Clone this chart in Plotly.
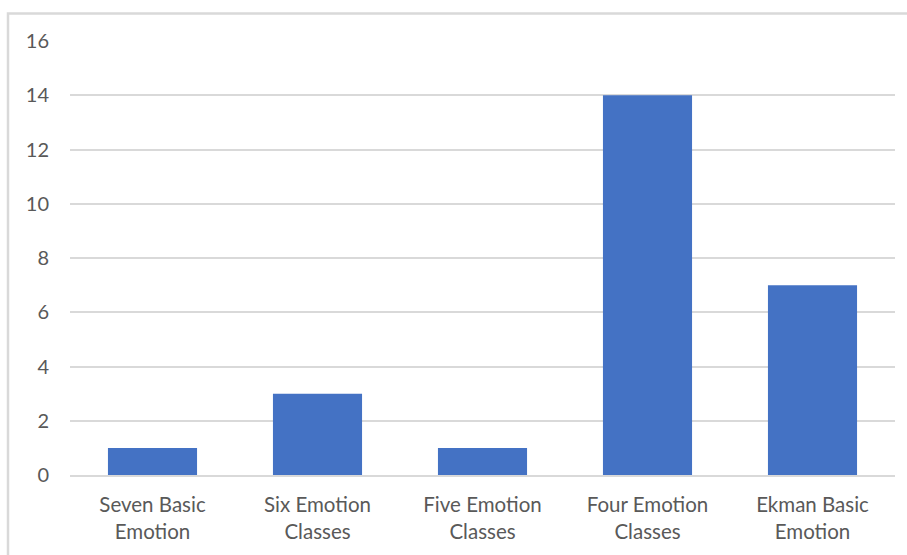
import plotly.graph_objects as go

categories = ["Seven Basic<br>Emotion", "Six Emotion<br>Classes", "Five Emotion<br>Classes",
              "Four Emotion<br>Classes", "Ekman Basic<br>Emotion"]
values = [1, 3, 1, 14, 7]
y_ticks = [0, 2, 4, 6, 8, 10, 12, 14, 16]

W, H = 907, 555
L, R, T, B = 70, 12, 41, 80
pw, ph = W - L - R, H - T - B

fig = go.Figure(go.Bar(x=categories, y=values, marker=dict(color="#4472C4", line=dict(width=0)),
                       hoverinfo="skip"))

fig.update_layout(
    width=W, height=H,
    margin=dict(l=L, r=R, t=T, b=B, pad=0),
    plot_bgcolor="white", paper_bgcolor="white",
    bargap=0.46,
    showlegend=False,
    font=dict(family="Lato", size=20, color="#595959"),
    xaxis=dict(showgrid=False, showline=True, linecolor="#d9d9d9", linewidth=1.5,
               ticks="", ticklabelstandoff=11, tickfont=dict(size=20.5, color="#595959")),
    yaxis=dict(range=[0, 16], tickvals=y_ticks, showgrid=True, gridcolor="#d9d9d9", gridwidth=1.5,
               zeroline=False, showline=False, ticks="", ticklabelstandoff=20,
               tickfont=dict(size=20, color="#595959")),
    shapes=[dict(type="rect", xref="paper", yref="paper",
                 x0=(8 - L) / pw, x1=(912 - L) / pw,
                 y0=(H - T - B + T - 565) / ph, y1=(H - B - 13.5) / ph,
                 line=dict(color="#d9d9d9", width=2.5), fillcolor="rgba(0,0,0,0)", layer="below")],
)

fig.write_html("out.html")
